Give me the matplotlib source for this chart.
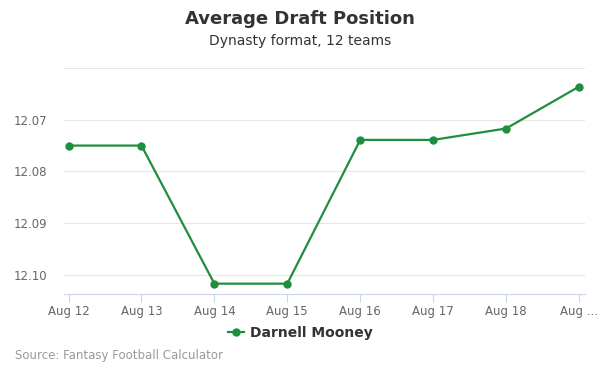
import matplotlib
matplotlib.use("Agg")
import matplotlib.pyplot as plt
from matplotlib.lines import Line2D

# --- Données ---
dates = ["Aug 12", "Aug 13", "Aug 14", "Aug 15", "Aug 16", "Aug 17", "Aug 18", "Aug ..."]
adp = [12.075, 12.075, 12.1017, 12.1017, 12.0739, 12.0739, 12.0717, 12.0636]
yticks = [12.07, 12.08, 12.09, 12.10]

green = "#1f8e3d"

fig = plt.figure(figsize=(6, 3.75), dpi=100)
ax = fig.add_axes([64/600, 1-294/375, 521/600, 226/375])

x = list(range(len(dates)))
ax.plot(x, adp, color=green, linewidth=1.6, marker="o", markersize=5, zorder=3)

ax.set_xlim(-0.062, 7.082)
ax.set_ylim(12.1037, 12.06)
ax.set_yticks([12.06] + yticks)
ax.set_yticklabels([""] + [f"{v:.2f}" for v in yticks])
ax.set_xticks(x)
ax.set_xticklabels(dates)

ax.grid(axis="y", color="#e6e6e6", linewidth=0.8)
ax.set_axisbelow(True)
for s in ["top", "right", "left"]:
    ax.spines[s].set_visible(False)
ax.spines["bottom"].set_color("#ccd6eb")
ax.tick_params(axis="y", length=0, labelsize=8.5, labelcolor="#666666", pad=12)
ax.tick_params(axis="x", length=6, color="#ccd6eb", labelsize=8.5, labelcolor="#666666", pad=2)

# --- Titres ---
fig.text(0.5, 1-19/375, "Average Draft Position", ha="center", va="center",
         fontsize=13, fontweight="bold", color="#333333")
fig.text(0.5, 1-41/375, "Dynasty format, 12 teams", ha="center", va="center",
         fontsize=10, color="#333333")

# --- Légende ---
handle = Line2D([], [], color=green, marker="o", markersize=5, linewidth=1.6)
fig.legend([handle], ["Darnell Mooney"], loc="center", bbox_to_anchor=(0.5, 1-333/375),
           frameon=False, handlelength=1.2, handletextpad=0.4,
           prop={"weight": "bold", "size": 10}, labelcolor="#333333")

fig.text(15/600, 1-356/375, "Source: Fantasy Football Calculator", ha="left", va="center",
         fontsize=8.5, color="#999999")

fig.savefig("out.png", dpi=100)
